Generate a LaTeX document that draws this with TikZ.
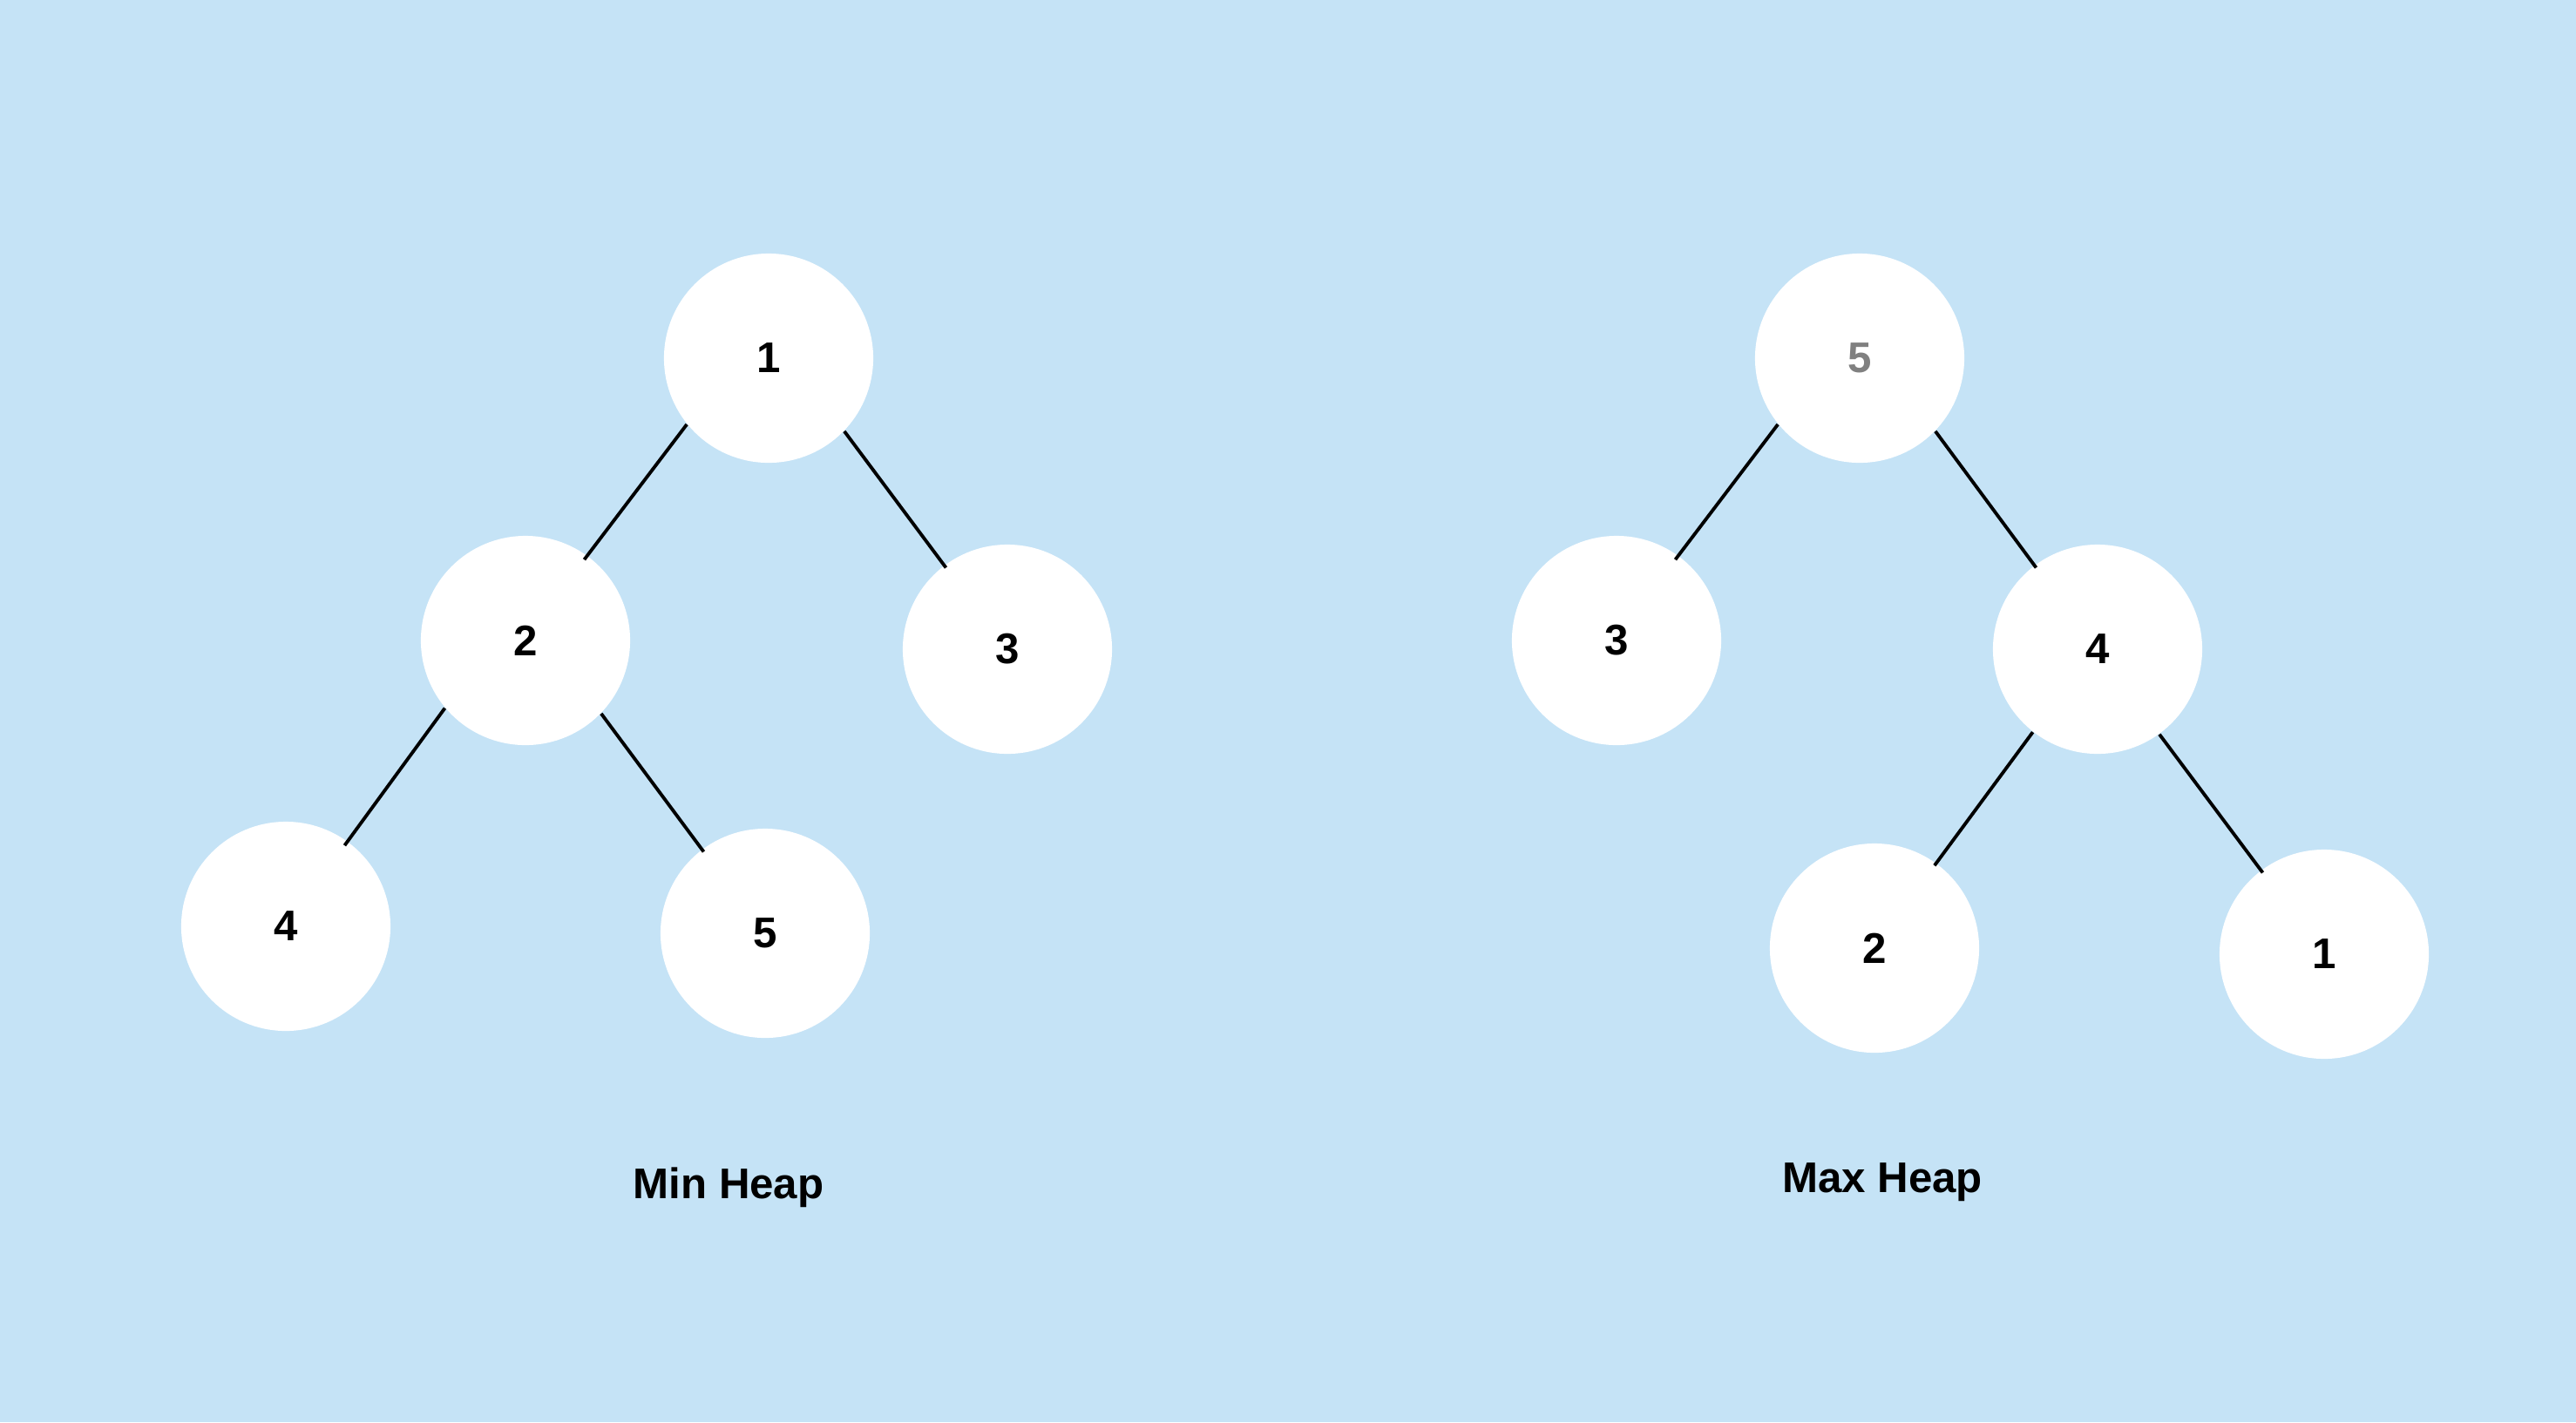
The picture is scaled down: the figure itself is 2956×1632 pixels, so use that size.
\documentclass[tikz,border=0pt]{standalone}
\usepackage{fontspec}
\setmainfont{Liberation Sans}
\usetikzlibrary{calc}
\definecolor{bgblue}{RGB}{197,227,246}
\definecolor{graytext}{RGB}{128,128,128}
\begin{document}
\begin{tikzpicture}[x=0.01cm,y=-0.01cm,
  heapnode/.style={circle,fill=white,minimum size=2.4cm,inner sep=0pt,font=\fontsize{14}{16}\selectfont\bfseries},
  edge/.style={line width=1.1pt,black},
  caption/.style={anchor=base,font=\fontsize{14}{16}\selectfont\bfseries}]
\fill[bgblue] (0,0) rectangle (2956,1632);
\useasboundingbox (0,0) rectangle (2956,1632);
% Min heap
\node[heapnode] (a1) at (882,411) {1};
\node[heapnode] (a2) at (603,735) {2};
\node[heapnode] (a3) at (1156,745) {3};
\node[heapnode] (a4) at (328,1063) {4};
\node[heapnode] (a5) at (878,1071) {5};
\draw[edge] (a1.219) -- ($(a2.center)!0.95!(a2.54)$);
\draw[edge] (a1.316) -- ($(a3.center)!0.97!(a3.127)$);
\draw[edge] (a2.220) -- ($(a4.center)!0.95!(a4.54)$);
\draw[edge] (a2.316) -- ($(a5.center)!0.97!(a5.127)$);
\node[caption] (minlabel) at (836,1375) {Min Heap};
% Max heap
\node[heapnode,text=graytext] (b5) at (2134,411) {5};
\node[heapnode] (b3) at (1855,735) {3};
\node[heapnode] (b4) at (2407,745) {4};
\node[heapnode] (b2) at (2151,1088) {2};
\node[heapnode] (b1) at (2667,1095) {1};
\draw[edge] (b5.219) -- ($(b3.center)!0.95!(b3.54)$);
\draw[edge] (b5.316) -- ($(b4.center)!0.97!(b4.127)$);
\draw[edge] (b4.232) -- ($(b2.center)!0.97!(b2.54)$);
\draw[edge] (b4.306) -- ($(b1.center)!0.97!(b1.127)$);
\node[caption] (maxlabel) at (2160,1368) {Max Heap};
\end{tikzpicture}
\end{document}
